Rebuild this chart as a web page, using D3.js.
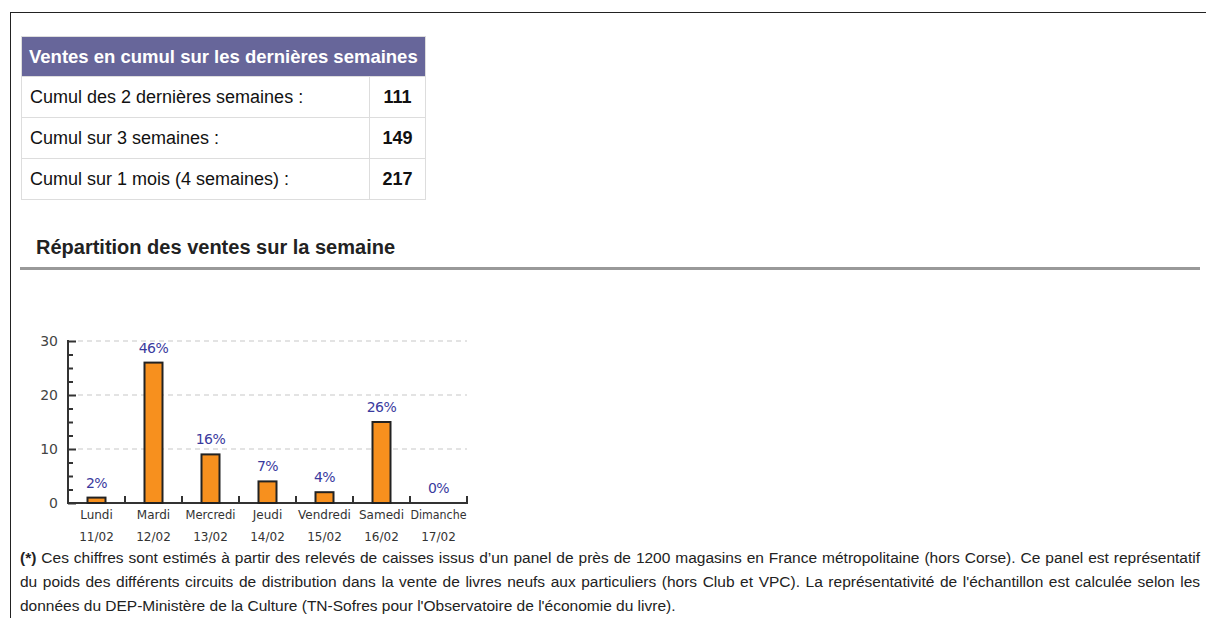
<!doctype html>
<html>
<head>
<meta charset="utf-8">
<script src="https://d3js.org/d3.v7.min.js"></script>
<style>
  body { margin: 0; background: #fff; font-family: "Liberation Sans", Arial, sans-serif; }
  #page { position: relative; width: 1206px; height: 618px; overflow: hidden; }
  #frame { position: absolute; left: 10px; top: 12px; width: 1200px; height: 620px;
           border-top: 1.5px solid #222; border-left: 1.5px solid #222; }
  table { position: absolute; left: 21px; top: 36px; border-collapse: collapse; width: 405px; }
  th { background: #67669a; color: #fff; font-size: 18.5px; font-weight: bold; text-align: left;
       height: 39px; padding: 0 0 0 7px; border: 1px solid #ddd; white-space: nowrap; }
  td { font-size: 18px; color: #111; height: 40px; padding: 0 0 0 8px; border: 1px solid #ddd; white-space: nowrap; }
  td.v { font-weight: bold; text-align: center; padding: 0; width: 55px; }
  #heading { position: absolute; left: 36px; top: 236px; font-size: 20px; font-weight: bold; color: #222; }
  #rule { position: absolute; left: 20px; top: 267px; width: 1180px; height: 3px; background: #999; }
  #note { position: absolute; left: 20px; top: 546px; width: 1180px; font-size: 15.5px; color: #222; line-height: 24px; }
  #note div { text-align: justify; text-align-last: justify; white-space: nowrap; }
  #note div.last { text-align-last: left; }
  svg { position: absolute; left: 0; top: 0; }
</style>
</head>
<body>
<div id="page">
  <div id="frame"></div>
  <table id="cumul"></table>
  <div id="heading">Répartition des ventes sur la semaine</div>
  <div id="rule"></div>
  <div id="chart"></div>
  <div id="note"></div>
</div>
<script>
(function () {
  "use strict";

  // cumulative sales table
  const tableTitle = "Ventes en cumul sur les dernières semaines";
  const cumulLabels = ["Cumul des 2 dernières semaines :", "Cumul sur 3 semaines :", "Cumul sur 1 mois (4 semaines) :"];
  const cumulValues = [111, 149, 217];

  // weekly distribution
  const days = ["Lundi", "Mardi", "Mercredi", "Jeudi", "Vendredi", "Samedi", "Dimanche"];
  const dates = ["11/02", "12/02", "13/02", "14/02", "15/02", "16/02", "17/02"];
  const sales = [1, 26, 9, 4, 2, 15, 0];
  const shares = ["2%", "46%", "16%", "7%", "4%", "26%", "0%"];
  const yTicks = [0, 10, 20, 30];

  const noteLines = [
    "Ces chiffres sont estimés à partir des relevés de caisses issus d’un panel de près de 1200 magasins en France métropolitaine (hors Corse). Ce panel est représentatif",
    "du poids des différents circuits de distribution dans la vente de livres neufs aux particuliers (hors Club et VPC). La représentativité de l'échantillon est calculée selon les",
    "données du DEP-Ministère de la Culture (TN-Sofres pour l'Observatoire de l'économie du livre)."
  ];

  // table
  const table = d3.select("#cumul");
  table.append("tr").append("th").attr("colspan", 2).text(tableTitle);
  cumulLabels.forEach(function (lab, i) {
    const tr = table.append("tr");
    tr.append("td").text(lab);
    tr.append("td").attr("class", "v").text(cumulValues[i]);
  });

  // chart
  const svg = d3.select("#chart").append("svg").attr("width", 1206).attr("height", 618);
  const x = d3.scaleBand().domain(days).range([68, 467]);
  const y = d3.scaleLinear().domain([0, 30]).range([503, 341]);
  const barW = 18;

  // grid
  svg.append("g").selectAll("line").data(yTicks.slice(1)).join("line")
    .attr("x1", 78).attr("x2", 467)
    .attr("y1", d => y(d)).attr("y2", d => y(d))
    .attr("stroke", "#c8c8c8").attr("stroke-width", 1.2).attr("stroke-dasharray", "5,4");

  // y axis
  const yAxis = svg.append("g").attr("transform", "translate(68,0)")
    .call(d3.axisRight(y).tickValues(d3.range(0, 30.1, 2.5)).tickSize(5).tickFormat(""));
  yAxis.select(".domain").remove();
  yAxis.selectAll(".tick line").attr("stroke", "#333").attr("stroke-width", 2)
    .attr("x2", d => d % 10 === 0 ? 8 : 5);
  svg.append("line").attr("x1", 68).attr("x2", 68).attr("y1", y(30) - 1).attr("y2", y(0) + 1)
    .attr("stroke", "#333").attr("stroke-width", 2);
  svg.append("g").selectAll("text").data(yTicks).join("text")
    .attr("x", 58).attr("y", d => y(d) + 5)
    .attr("text-anchor", "end").attr("font-family", "DejaVu Sans").attr("font-size", 14)
    .attr("fill", "#444").text(d => d);

  // x axis
  svg.append("line").attr("x1", 67).attr("x2", 468).attr("y1", y(0)).attr("y2", y(0))
    .attr("stroke", "#333").attr("stroke-width", 2);
  svg.append("g").selectAll("line").data(days).join("line")
    .attr("x1", d => x(d) + x.bandwidth()).attr("x2", d => x(d) + x.bandwidth())
    .attr("y1", y(0)).attr("y2", y(0) - 7)
    .attr("stroke", "#333").attr("stroke-width", 2);
  const xl = svg.append("g").attr("font-family", "DejaVu Sans").attr("font-size", 12).attr("fill", "#333")
    .attr("text-anchor", "middle");
  xl.selectAll("text.day").data(days).join("text").attr("class", "day")
    .attr("x", d => x(d) + x.bandwidth() / 2).attr("y", 519)
    .attr("textLength", d => d === "Mercredi" ? 50 : d === "Dimanche" ? 56 : null)
    .attr("lengthAdjust", "spacingAndGlyphs")
    .text(d => d);
  xl.selectAll("text.date").data(dates).join("text").attr("class", "date")
    .attr("x", (d, i) => x(days[i]) + x.bandwidth() / 2).attr("y", 541).text(d => d);

  // bars
  svg.append("g").selectAll("rect").data(days.map((d, i) => ({ day: d, v: sales[i] })).filter(d => d.v > 0)).join("rect")
    .attr("x", d => x(d.day) + (x.bandwidth() - barW) / 2)
    .attr("y", d => y(d.v)).attr("width", barW).attr("height", d => y(0) - y(d.v))
    .attr("fill", "#f7901e").attr("stroke", "#222").attr("stroke-width", 2);

  // percent labels
  svg.append("g").selectAll("text").data(shares).join("text")
    .attr("x", (d, i) => x(days[i]) + x.bandwidth() / 2)
    .attr("y", (d, i) => y(sales[i]) - 10)
    .attr("text-anchor", "middle").attr("font-family", "DejaVu Sans").attr("font-size", 14)
    .attr("letter-spacing", -0.5).attr("fill", "#3a3a9e").text(d => d);

  // footnote
  const note = d3.select("#note");
  noteLines.forEach(function (t, i) {
    const div = note.append("div");
    if (i === noteLines.length - 1) div.attr("class", "last");
    if (i === 0) div.append("b").text("(*)");
    div.append("span").text((i === 0 ? " " : "") + t);
  });
})();
</script>
</body>
</html>
